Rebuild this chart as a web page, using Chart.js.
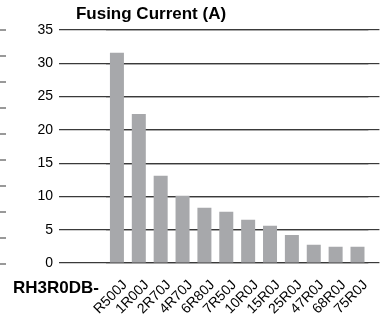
<!DOCTYPE html>
<html>
<head>
<meta charset="utf-8">
<script src="https://cdn.jsdelivr.net/npm/chart.js@4.4.1/dist/chart.umd.min.js"></script>
<style>
  body { margin: 0; background: #fff; overflow: hidden; }
  #wrap { width: 384px; height: 318px; position: relative; }
</style>
</head>
<body>
<div id="wrap"><canvas id="fusing-chart"></canvas></div>
<script>
// Fusing current by part number

const partLabels = ["R500J", "1R00J", "2R70J", "4R70J", "6R80J", "7R50J", "10R0J", "15R0J", "25R0J", "47R0J", "68R0J", "75R0J"];
const fusingCurrent = [31.6, 22.4, 13.1, 10.1, 8.3, 7.7, 6.5, 5.6, 4.2, 2.75, 2.45, 2.45];
const yMin = 0;
const yMax = 35;
const yStep = 5;

const titleText = "Fusing Current (A)";
const rowHeader = "RH3R0DB-";

const font = "'Liberation Sans', Arial, Helvetica, sans-serif";
const gridColor = "#3a3a3a";

// title, row header and the cut-off tick stubs at the left edge
const extras = {
  id: 'extras',
  afterDraw(chart) {
    const ctx = chart.ctx;
    ctx.save();
    ctx.fillStyle = "#000";
    ctx.font = "bold 17px " + font;
    ctx.textAlign = "center";
    ctx.textBaseline = "alphabetic";
    ctx.fillText(titleText, 151, 19);
    ctx.textAlign = "left";
    ctx.fillText(rowHeader, 13, 293);
    ctx.strokeStyle = "#555";
    ctx.lineWidth = 1.2;
    for (let i = 0; i < 10; i++) {
      const y = 30 + i * 26;
      ctx.beginPath();
      ctx.moveTo(0, y);
      ctx.lineTo(6, y);
      ctx.stroke();
    }
    ctx.restore();
  }
};

new Chart(document.getElementById("fusing-chart"), {
  type: 'bar',
  data: {
    labels: partLabels,
    datasets: [{
      data: fusingCurrent,
      backgroundColor: "#a7a8ab",
      borderWidth: 0,
      categoryPercentage: 1,
      barPercentage: 0.64
    }]
  },
  options: {
    responsive: true,
    maintainAspectRatio: false,
    animation: false,
    layout: { padding: { top: 30, left: 0, right: 0, bottom: 0 } },
    plugins: {
      legend: { display: false },
      title: { display: false },
      tooltip: { enabled: false }
    },
    scales: {
      x: {
        grid: { display: false, drawTicks: false },
        border: { display: false },
        ticks: {
          autoSkip: false,
          minRotation: 45,
          maxRotation: 45,
          padding: 14,
          labelOffset: 8,
          color: "#000",
          font: { family: font, size: 14 }
        },
        afterFit(scale) { scale.height = 55; }
      },
      y: {
        position: 'left',
        min: yMin,
        max: yMax,
        grid: { color: gridColor, lineWidth: 1.2, tickLength: 47 },
        border: { display: false },
        ticks: {
          stepSize: yStep,
          padding: 6,
          color: "#000",
          font: { family: font, size: 14 }
        },
        afterFit(scale) { scale.width = 106; }
      },
      yRight: {
        position: 'right',
        min: yMin,
        max: yMax,
        grid: {
          color: gridColor,
          tickColor: gridColor,
          lineWidth: 1.2,
          tickLength: 11,
          drawTicks: true,
          drawOnChartArea: true
        },
        border: { display: false },
        ticks: { stepSize: yStep, color: "rgba(0,0,0,0)", font: { size: 1 } },
        afterFit(scale) { scale.width = 15; }
      }
    }
  },
  plugins: [extras]
});
</script>
</body>
</html>
